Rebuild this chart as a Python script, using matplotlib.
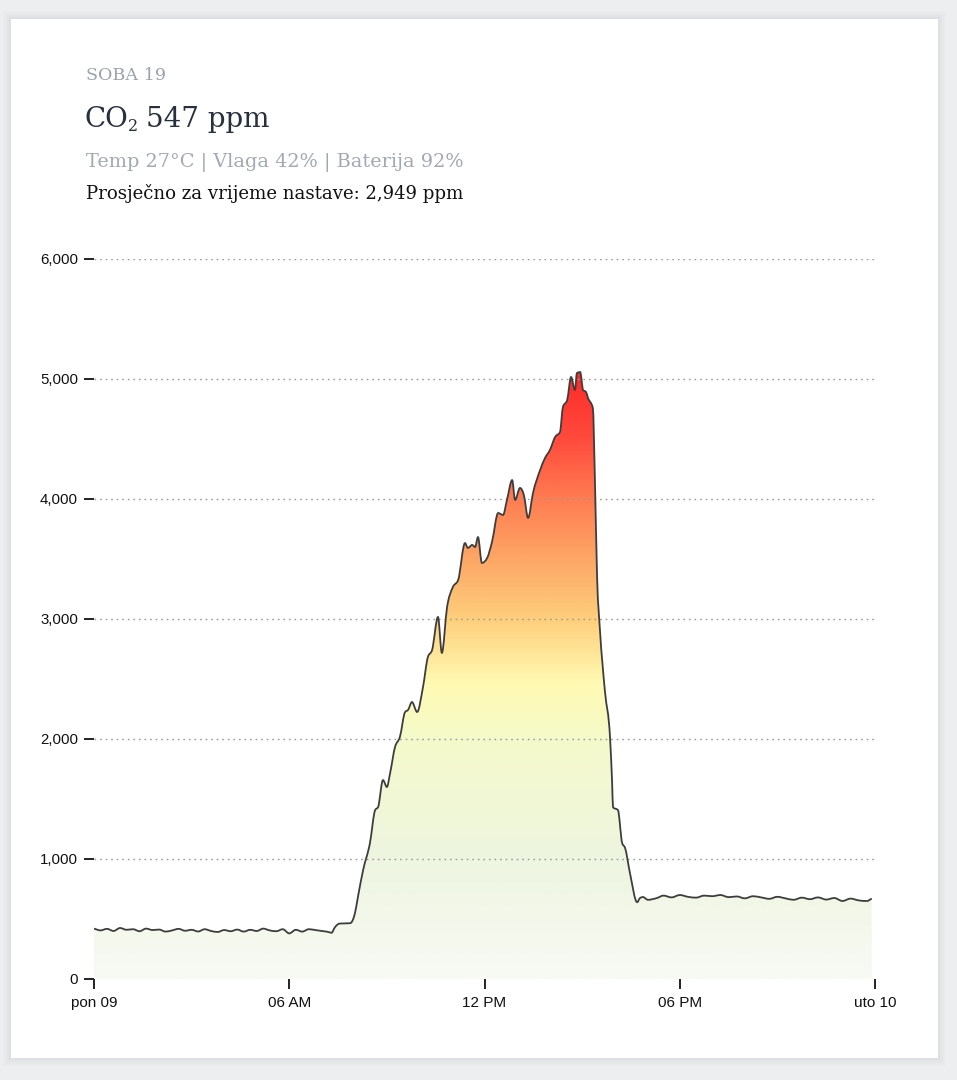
import numpy as np
import matplotlib
matplotlib.use("Agg")
import matplotlib.pyplot as plt
from matplotlib.colors import LinearSegmentedColormap
from matplotlib.patches import Rectangle, PathPatch
from matplotlib.path import Path

# ---------------- data ----------------
night_hours = [0.0, 0.2, 0.4, 0.6, 0.8, 1.0, 1.2, 1.4, 1.6, 1.8, 2.0, 2.2, 2.4, 2.6,
               2.8, 3.0, 3.2, 3.4, 3.6, 3.8, 4.0, 4.2, 4.4, 4.6, 4.8, 5.0, 5.2, 5.4,
               5.6, 5.8, 6.0, 6.2, 6.4, 6.6, 6.8, 7.0, 7.2]
night_ppm = [420, 405, 418, 400, 425, 410, 415, 398, 420, 408, 412, 395, 405, 418,
             402, 410, 396, 415, 400, 392, 408, 398, 412, 395, 410, 400, 420, 405,
             398, 415, 380, 410, 395, 415, 408, 400, 392]

day_hours = [7.3, 7.4, 7.55, 7.87, 8.02, 8.11, 8.27, 8.48, 8.64, 8.73, 8.88, 9.00,
             9.10, 9.25, 9.40, 9.56, 9.65, 9.77, 9.93, 10.11, 10.26, 10.39, 10.57,
             10.69, 10.85, 11.03, 11.19, 11.40, 11.49, 11.62, 11.71, 11.80, 11.92,
             12.08, 12.23, 12.42, 12.57, 12.69, 12.85, 12.94, 13.09, 13.21, 13.34,
             13.49, 13.71, 13.86, 14.01, 14.17, 14.32, 14.41, 14.54, 14.66, 14.78,
             14.84, 14.94, 15.03, 15.12, 15.18, 15.33, 15.39, 15.46, 15.55, 15.70,
             15.86, 15.92, 15.95, 16.10, 16.23, 16.32, 16.47, 16.69, 16.78, 16.87,
             17.02, 17.30]
day_ppm = [385, 430, 462, 465, 550, 683, 908, 1133, 1408, 1433, 1658, 1600,
           1717, 1933, 2017, 2225, 2242, 2308, 2225, 2433, 2683, 2742, 3017,
           2717, 3100, 3267, 3325, 3633, 3592, 3617, 3600, 3683, 3467,
           3508, 3642, 3883, 3867, 3992, 4158, 3992, 4092, 4033, 3842,
           4050, 4242, 4342, 4408, 4517, 4558, 4767, 4825, 5017, 4908,
           5050, 5058, 4908, 4892, 4842, 4758, 4200, 3350, 2900, 2400,
           2000, 1650, 1430, 1408, 1133, 1092, 883, 640, 675, 683,
           660, 675]

evening_hours = [17.5, 17.75, 18.0, 18.25, 18.5, 18.75, 19.0, 19.25, 19.5, 19.75,
                 20.0, 20.25, 20.5, 20.75, 21.0, 21.25, 21.5, 21.75, 22.0, 22.25,
                 22.5, 22.75, 23.0, 23.25, 23.5, 23.75, 23.9]
evening_ppm = [695, 680, 700, 685, 678, 695, 690, 700, 682, 688,
               672, 690, 680, 668, 685, 672, 660, 678, 665, 680,
               662, 675, 650, 670, 655, 650, 670]

x_ticks = [0, 6, 12, 18, 24]
x_tick_labels = ["pon 09", "06 AM", "12 PM", "06 PM", "uto 10"]
y_ticks = [0, 1000, 2000, 3000, 4000, 5000, 6000]

room = "SOBA 19"
co2_now = 547
temp_c = 27
humidity = 42
battery = 92
avg_class = 2949

# ---------------- figure ----------------
W, H = 957, 1080
fig = plt.figure(figsize=(W / 100, H / 100), dpi=100)
fig.patch.set_facecolor("#eceef0")

def fx(px):
    return px / W

def fy(py):
    return 1 - py / H

# card shadow + card
for i, a in enumerate([0.025, 0.03, 0.04, 0.05]):
    d = 8 - 2 * i
    fig.patches.append(Rectangle((fx(11 - d), fy(1058 + d)), fx(927 + 2 * d), (1039 + 2 * d) / H,
                                 transform=fig.transFigure, facecolor="#8a8f99", alpha=a,
                                 edgecolor="none", zorder=0))
fig.patches.append(Rectangle((fx(11), fy(1058)), fx(927), 1039 / H,
                             transform=fig.transFigure, facecolor="white",
                             edgecolor="none", zorder=1))

serif = ["DejaVu Serif"]
fig.text(fx(86), fy(80), room, fontsize=12.6, color="#9aa2ae", family=serif, va="baseline")
fig.text(fx(85), fy(127), "CO", fontsize=20, color="#27303f", family=serif, va="baseline")
fig.text(fx(128), fy(131), "2", fontsize=11.5, color="#27303f", family=serif, va="baseline")
fig.text(fx(146), fy(127), f"{co2_now} ppm", fontsize=20, color="#27303f",
         family=serif, va="baseline")
fig.text(fx(86), fy(167), f"Temp {temp_c}°C | Vlaga {humidity}% | Baterija {battery}%",
         fontsize=13.9, color="#a2a9b4", family=serif, va="baseline")
fig.text(fx(86), fy(199), f"Prosječno za vrijeme nastave: {avg_class:,} ppm",
         fontsize=13.1, color="#111111", family=serif, va="baseline")

# ---------------- axes ----------------
ax = fig.add_axes([fx(94), 1 - 979 / H, 781 / W, 720 / H])
ax.set_facecolor("none")
ax.set_zorder(2)

hours = np.array(night_hours + day_hours + evening_hours, dtype=float)
ppm = np.array(night_ppm + day_ppm + evening_ppm, dtype=float)

ax.set_xlim(0, 24)
ax.set_ylim(0, 6000)

# monotone-x cubic path through the data points (curve rendering, like d3.curveMonotoneX)
def monotone_path(x, y):
    n = len(x)
    dx = np.diff(x)
    s = np.diff(y) / dx
    m = np.zeros(n)
    m[0] = s[0]
    m[-1] = s[-1]
    for i in range(1, n - 1):
        if s[i - 1] * s[i] <= 0:
            m[i] = 0.0
        else:
            p = (s[i - 1] * dx[i] + s[i] * dx[i - 1]) / (dx[i - 1] + dx[i])
            m[i] = np.sign(s[i]) * min(abs(p), 2 * abs(s[i - 1]), 2 * abs(s[i]))
    verts = [(x[0], y[0])]
    codes = [Path.MOVETO]
    for i in range(n - 1):
        h = dx[i] / 3
        verts += [(x[i] + h, y[i] + m[i] * h), (x[i + 1] - h, y[i + 1] - m[i + 1] * h),
                  (x[i + 1], y[i + 1])]
        codes += [Path.CURVE4] * 3
    return verts, codes

lv, lc = monotone_path(hours, ppm)
line_path = Path(lv, lc)
fill_path = Path([(hours[0], 0)] + lv + [(hours[-1], 0), (hours[0], 0)],
                 [Path.MOVETO, Path.LINETO] + lc[1:] + [Path.LINETO, Path.CLOSEPOLY])

# gradient fill clipped to the area under the curve
stops = [(0.0, "#f8faf5"), (1000 / 5100, "#eef5e0"), (2000 / 5100, "#f5facb"),
         (2450 / 5100, "#fffbb4"), (3000 / 5100, "#fecf7c"), (3500 / 5100, "#fda766"),
         (4000 / 5100, "#ff7d52"), (4500 / 5100, "#ff4b3d"), (1.0, "#ff2727")]
cmap = LinearSegmentedColormap.from_list("co2", stops)
grad = np.linspace(0, 1, 512).reshape(-1, 1)
img = ax.imshow(grad, aspect="auto", cmap=cmap, origin="lower",
                extent=[hours[0], hours[-1], 0, 5100], zorder=1, interpolation="bilinear")
clip = PathPatch(fill_path, transform=ax.transData, facecolor="none", edgecolor="none")
ax.add_patch(clip)
img.set_clip_path(clip)

# grid lines
for yv in y_ticks[1:]:
    ax.axhline(yv, color="#9a9a9a", lw=1.0, ls=(0, (1.2, 2.8)), zorder=2)

ax.add_patch(PathPatch(line_path, facecolor="none", edgecolor="#3d3d3d", lw=1.3,
                       zorder=3, joinstyle="round"))

for s in ax.spines.values():
    s.set_visible(False)

ax.set_xticks(x_ticks)
ax.set_xticklabels(x_tick_labels)
ax.set_yticks(y_ticks)
ax.set_yticklabels([f"{v:,}" for v in y_ticks])
ax.tick_params(axis="both", colors="#222222", labelcolor="#111111", labelsize=11,
               width=1.4, length=7.5)
ax.tick_params(axis="y", pad=4, labelsize=10.8)
ax.tick_params(axis="x", pad=5)
for lab in ax.get_xticklabels() + ax.get_yticklabels():
    lab.set_family("Liberation Sans")

fig.savefig("out.png", dpi=100, facecolor=fig.get_facecolor())
